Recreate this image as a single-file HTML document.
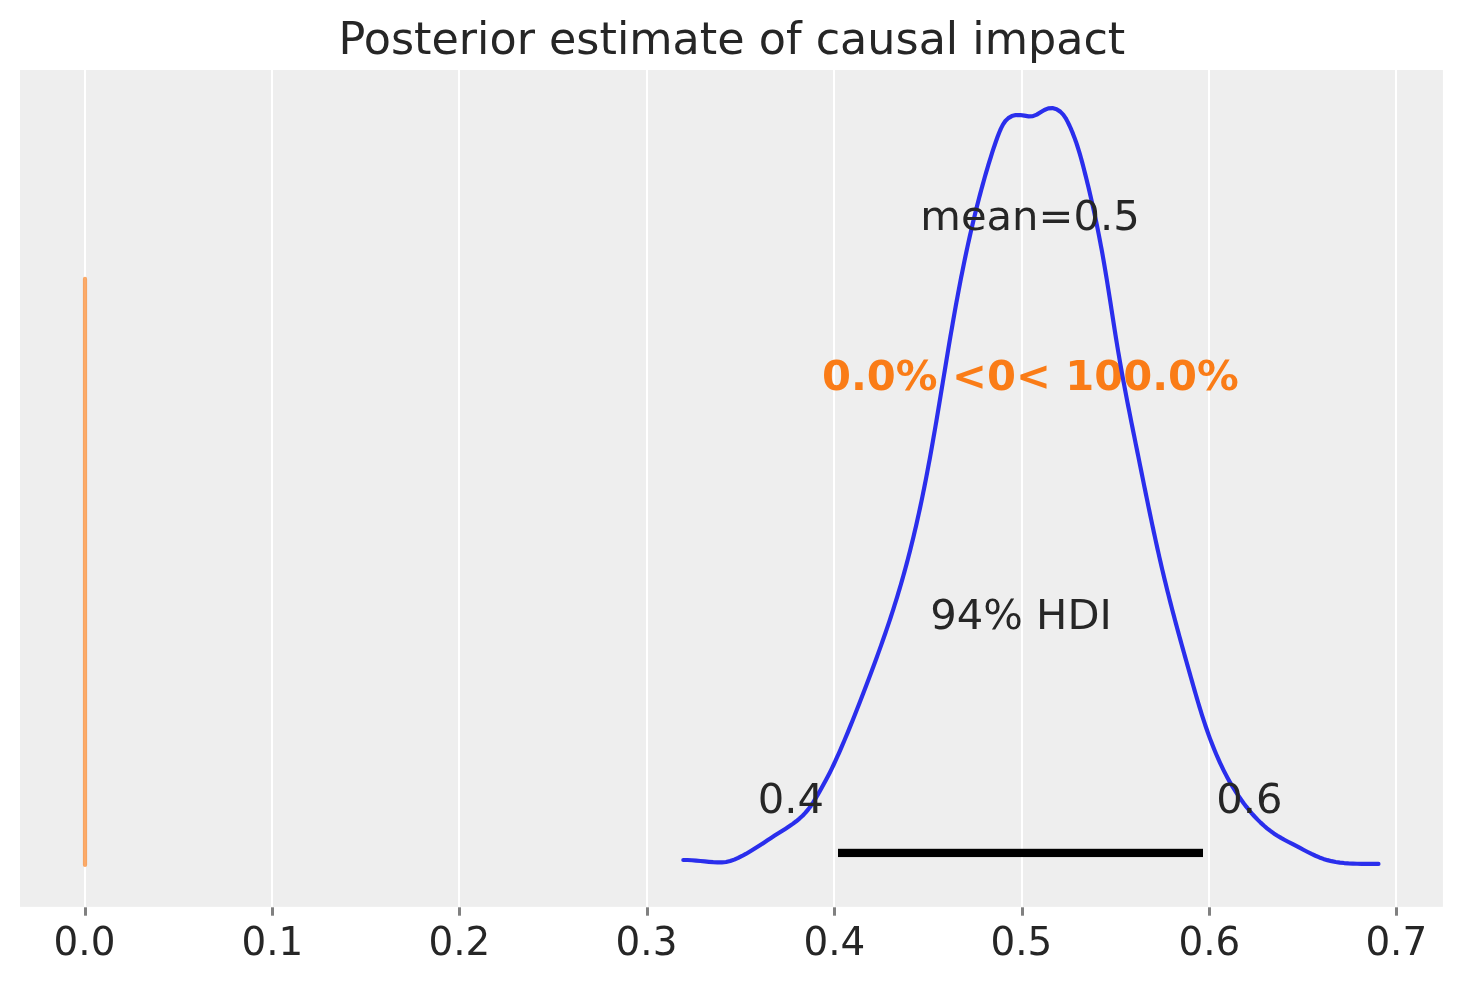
<!DOCTYPE html>
<html lang="en">
<head>
<meta charset="utf-8">
<title>Posterior estimate of causal impact</title>
<style>
html,body{margin:0;padding:0;background:#ffffff;}
body{width:1463px;height:983px;overflow:hidden;}
svg{display:block;will-change:transform;}
text{font-family:"DejaVu Sans", "Liberation Sans", sans-serif;white-space:pre;}
</style>
</head>
<body>
<svg width="1463" height="983" viewBox="0 0 1463 983">
<rect x="0" y="0" width="1463" height="983" fill="#ffffff"/>
<!-- axes background -->
<rect x="20" y="70" width="1422.9" height="836.85" fill="#eeeeee"/>
<!-- grid -->
<rect x="84" y="70" width="2" height="836.85" fill="#ffffff"/>
<rect x="271" y="70" width="2" height="836.85" fill="#ffffff"/>
<rect x="458" y="70" width="2" height="836.85" fill="#ffffff"/>
<rect x="646" y="70" width="2" height="836.85" fill="#ffffff"/>
<rect x="833" y="70" width="2" height="836.85" fill="#ffffff"/>
<rect x="1021" y="70" width="2" height="836.85" fill="#ffffff"/>
<rect x="1208" y="70" width="2" height="836.85" fill="#ffffff"/>
<rect x="1395" y="70" width="2" height="836.85" fill="#ffffff"/>
<!-- x ticks -->
<rect x="84" y="907.3" width="3" height="8.4" fill="#808080"/>
<rect x="271" y="907.3" width="3" height="8.4" fill="#808080"/>
<rect x="458" y="907.3" width="3" height="8.4" fill="#808080"/>
<rect x="646" y="907.3" width="3" height="8.4" fill="#808080"/>
<rect x="833" y="907.3" width="3" height="8.4" fill="#808080"/>
<rect x="1021" y="907.3" width="3" height="8.4" fill="#808080"/>
<rect x="1208" y="907.3" width="3" height="8.4" fill="#808080"/>
<rect x="1395" y="907.3" width="3" height="8.4" fill="#808080"/>
<text x="84.5" y="955.2" text-anchor="middle" font-size="38.89" fill="#262626">0.0</text>
<text x="272.4" y="955.2" text-anchor="middle" font-size="38.89" fill="#262626">0.1</text>
<text x="459.4" y="955.2" text-anchor="middle" font-size="38.89" fill="#262626">0.2</text>
<text x="646.5" y="955.2" text-anchor="middle" font-size="38.89" fill="#262626">0.3</text>
<text x="834.4" y="955.2" text-anchor="middle" font-size="38.89" fill="#262626">0.4</text>
<text x="1021.4" y="955.2" text-anchor="middle" font-size="38.89" fill="#262626">0.5</text>
<text x="1209.4" y="955.2" text-anchor="middle" font-size="38.89" fill="#262626">0.6</text>
<text x="1396.3" y="955.2" text-anchor="middle" font-size="38.89" fill="#262626">0.7</text>
<!-- title -->
<text x="731.9" y="53.5" text-anchor="middle" font-size="44.44" fill="#262626">Posterior estimate of causal impact</text>
<!-- reference value line -->
<line x1="85" y1="278.9" x2="85" y2="865" stroke="#fa7c17" stroke-opacity="0.65" stroke-width="4.17" stroke-linecap="round"/>
<!-- reference text -->
<text x="1030.4" y="389.8" text-anchor="middle" font-size="41.67" font-weight="bold" fill="#fa7c17">0.0% &lt;0&lt; 100.0%</text>
<!-- KDE -->
<path d="M683.30,860.00 L687.59,860.03 L691.87,860.23 L696.13,860.56 L700.39,860.96 L704.65,861.40 L708.92,861.82 L713.20,862.17 L717.50,862.40 L721.80,862.41 L726.05,862.02 L730.20,861.07 L734.25,859.65 L738.19,857.90 L742.05,855.97 L745.82,853.93 L749.52,851.79 L753.17,849.58 L756.77,847.31 L760.35,844.99 L763.91,842.65 L767.48,840.29 L771.06,837.94 L774.67,835.60 L778.32,833.29 L781.98,830.99 L785.63,828.67 L789.23,826.30 L792.76,823.85 L796.19,821.29 L799.47,818.59 L802.59,815.72 L805.51,812.65 L808.24,809.38 L810.79,805.95 L813.19,802.39 L815.47,798.72 L817.66,794.98 L819.77,791.21 L821.84,787.43 L823.89,783.68 L825.94,779.95 L827.94,776.22 L829.90,772.45 L831.79,768.62 L833.63,764.75 L835.43,760.86 L837.21,756.95 L838.96,753.04 L840.68,749.11 L842.38,745.18 L844.06,741.24 L845.72,737.29 L847.37,733.33 L848.99,729.37 L850.61,725.40 L852.21,721.43 L853.80,717.45 L855.38,713.47 L856.95,709.49 L858.52,705.50 L860.08,701.51 L861.63,697.52 L863.17,693.52 L864.71,689.53 L866.24,685.52 L867.76,681.52 L869.28,677.51 L870.78,673.50 L872.28,669.49 L873.77,665.47 L875.25,661.45 L876.72,657.43 L878.19,653.40 L879.64,649.37 L881.08,645.34 L882.51,641.30 L883.92,637.26 L885.33,633.21 L886.72,629.16 L888.09,625.10 L889.45,621.04 L890.80,616.97 L892.13,612.90 L893.44,608.82 L894.73,604.74 L896.01,600.65 L897.27,596.55 L898.50,592.45 L899.72,588.34 L900.93,584.23 L902.11,580.11 L903.28,575.99 L904.43,571.86 L905.56,567.73 L906.68,563.59 L907.78,559.45 L908.86,555.30 L909.92,551.15 L910.97,547.00 L912.01,542.84 L913.02,538.68 L914.02,534.51 L915.01,530.34 L915.98,526.17 L916.93,521.99 L917.87,517.81 L918.79,513.63 L919.70,509.44 L920.60,505.26 L921.48,501.06 L922.35,496.87 L923.21,492.67 L924.06,488.48 L924.89,484.27 L925.72,480.07 L926.53,475.87 L927.34,471.66 L928.13,467.45 L928.92,463.24 L929.70,459.02 L930.46,454.81 L931.22,450.59 L931.98,446.37 L932.72,442.15 L933.46,437.93 L934.20,433.71 L934.93,429.49 L935.65,425.26 L936.37,421.04 L937.08,416.81 L937.79,412.58 L938.50,408.35 L939.21,404.13 L939.91,399.90 L940.61,395.67 L941.30,391.44 L942.00,387.21 L942.70,382.98 L943.39,378.75 L944.09,374.52 L944.79,370.29 L945.48,366.06 L946.18,361.83 L946.88,357.60 L947.59,353.38 L948.29,349.15 L949.00,344.92 L949.71,340.70 L950.43,336.47 L951.15,332.25 L951.88,328.03 L952.61,323.80 L953.35,319.58 L954.09,315.37 L954.84,311.15 L955.60,306.93 L956.37,302.72 L957.14,298.51 L957.92,294.30 L958.72,290.09 L959.52,285.88 L960.33,281.68 L961.14,277.48 L961.97,273.28 L962.82,269.08 L963.67,264.88 L964.53,260.69 L965.40,256.49 L966.29,252.30 L967.19,248.12 L968.10,243.93 L969.03,239.75 L969.97,235.57 L970.92,231.39 L971.89,227.21 L972.87,223.04 L973.87,218.87 L974.88,214.70 L975.91,210.53 L976.95,206.37 L978.01,202.21 L979.09,198.05 L980.19,193.90 L981.30,189.74 L982.43,185.60 L983.58,181.45 L984.75,177.30 L985.93,173.17 L987.14,169.04 L988.37,164.93 L989.61,160.83 L990.88,156.76 L992.17,152.72 L993.47,148.71 L994.80,144.73 L996.16,140.78 L997.59,136.80 L999.15,132.73 L1000.89,128.58 L1002.93,124.59 L1005.36,121.02 L1008.31,118.11 L1011.83,116.10 L1015.80,115.05 L1020.04,114.99 L1024.38,115.67 L1028.69,116.33 L1032.84,116.16 L1036.77,114.64 L1040.57,112.33 L1044.37,110.02 L1048.30,108.44 L1052.41,108.11 L1056.59,109.32 L1060.27,111.62 L1063.22,114.62 L1065.63,118.10 L1067.68,121.88 L1069.56,125.76 L1071.30,129.68 L1072.94,133.64 L1074.48,137.64 L1075.93,141.67 L1077.29,145.73 L1078.58,149.81 L1079.81,153.92 L1080.98,158.04 L1082.11,162.17 L1083.21,166.32 L1084.28,170.47 L1085.34,174.63 L1086.38,178.79 L1087.41,182.95 L1088.41,187.11 L1089.41,191.28 L1090.39,195.45 L1091.35,199.63 L1092.29,203.81 L1093.23,207.99 L1094.14,212.17 L1095.04,216.36 L1095.93,220.55 L1096.80,224.74 L1097.65,228.94 L1098.49,233.14 L1099.32,237.34 L1100.13,241.55 L1100.92,245.76 L1101.70,249.97 L1102.47,254.18 L1103.22,258.40 L1103.95,262.62 L1104.68,266.84 L1105.39,271.07 L1106.09,275.30 L1106.78,279.53 L1107.46,283.76 L1108.14,287.99 L1108.81,292.22 L1109.48,296.46 L1110.14,300.69 L1110.80,304.93 L1111.45,309.16 L1112.11,313.40 L1112.77,317.64 L1113.43,321.87 L1114.09,326.11 L1114.76,330.34 L1115.43,334.58 L1116.11,338.81 L1116.79,343.04 L1117.49,347.27 L1118.19,351.49 L1118.91,355.72 L1119.63,359.94 L1120.37,364.16 L1121.12,368.38 L1121.88,372.59 L1122.64,376.81 L1123.42,381.02 L1124.21,385.23 L1125.00,389.44 L1125.80,393.65 L1126.61,397.86 L1127.42,402.06 L1128.24,406.27 L1129.07,410.47 L1129.90,414.67 L1130.73,418.87 L1131.57,423.07 L1132.41,427.28 L1133.25,431.48 L1134.10,435.68 L1134.95,439.88 L1135.79,444.08 L1136.64,448.28 L1137.49,452.48 L1138.34,456.68 L1139.19,460.88 L1140.03,465.08 L1140.88,469.28 L1141.73,473.48 L1142.57,477.68 L1143.42,481.89 L1144.27,486.09 L1145.13,490.29 L1145.98,494.49 L1146.84,498.69 L1147.70,502.88 L1148.57,507.08 L1149.44,511.28 L1150.32,515.47 L1151.20,519.67 L1152.08,523.86 L1152.98,528.05 L1153.87,532.24 L1154.78,536.43 L1155.69,540.62 L1156.61,544.80 L1157.54,548.98 L1158.48,553.16 L1159.43,557.34 L1160.39,561.52 L1161.35,565.69 L1162.33,569.86 L1163.32,574.03 L1164.32,578.19 L1165.33,582.36 L1166.35,586.52 L1167.38,590.67 L1168.43,594.83 L1169.48,598.98 L1170.55,603.13 L1171.62,607.27 L1172.71,611.42 L1173.80,615.56 L1174.90,619.70 L1176.01,623.84 L1177.12,627.97 L1178.25,632.11 L1179.37,636.24 L1180.51,640.37 L1181.65,644.50 L1182.80,648.63 L1183.95,652.76 L1185.10,656.89 L1186.26,661.02 L1187.43,665.14 L1188.59,669.27 L1189.76,673.39 L1190.93,677.52 L1192.10,681.64 L1193.28,685.77 L1194.46,689.89 L1195.65,694.01 L1196.85,698.13 L1198.07,702.24 L1199.30,706.34 L1200.55,710.44 L1201.83,714.53 L1203.13,718.61 L1204.45,722.69 L1205.81,726.75 L1207.21,730.79 L1208.64,734.83 L1210.11,738.85 L1211.62,742.85 L1213.18,746.84 L1214.79,750.80 L1216.45,754.75 L1218.16,758.68 L1219.93,762.58 L1221.75,766.46 L1223.64,770.30 L1225.59,774.12 L1227.60,777.90 L1229.68,781.64 L1231.82,785.35 L1234.04,789.01 L1236.33,792.64 L1238.70,796.21 L1241.15,799.74 L1243.67,803.21 L1246.28,806.64 L1248.97,810.00 L1251.75,813.29 L1254.62,816.50 L1257.58,819.62 L1260.63,822.63 L1263.78,825.53 L1267.03,828.29 L1270.38,830.92 L1273.82,833.40 L1277.38,835.72 L1281.02,837.90 L1284.74,839.97 L1288.52,841.98 L1292.33,843.95 L1296.16,845.93 L1299.99,847.95 L1303.82,849.98 L1307.67,851.99 L1311.54,853.92 L1315.45,855.75 L1319.39,857.42 L1323.39,858.90 L1327.45,860.14 L1331.56,861.15 L1335.73,861.95 L1339.94,862.58 L1344.18,863.05 L1348.45,863.38 L1352.75,863.60 L1357.05,863.73 L1361.36,863.81 L1365.66,863.84 L1369.96,863.86 L1374.23,863.89 L1378.48,863.95" fill="none" stroke="#2a2eec" stroke-width="4.17" stroke-linecap="round" stroke-linejoin="round"/>
<!-- HDI bar -->
<rect x="838" y="848.8" width="365" height="8.25" fill="#000000"/>
<!-- annotations -->
<text x="1030" y="230" text-anchor="middle" font-size="41.67" fill="#262626">mean=0.5</text>
<text x="1021" y="629" text-anchor="middle" font-size="41.67" fill="#262626">94% HDI</text>
<text x="837.3" y="812.8" text-anchor="end" font-size="41.67" fill="#262626">0.4 </text>
<text x="1203" y="812.8" text-anchor="start" font-size="41.67" fill="#262626"> 0.6</text>
</svg>
</body>
</html>
